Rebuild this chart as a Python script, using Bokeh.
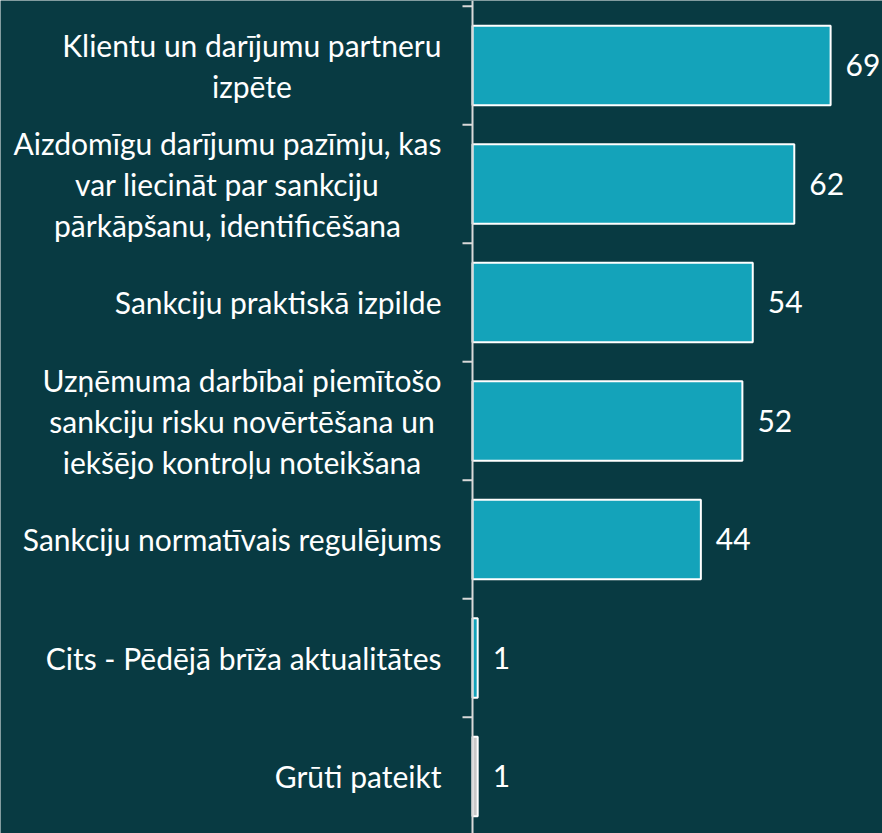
import numpy as np
from bokeh.plotting import figure
from bokeh.models import Range1d, ColumnDataSource, Span
from bokeh.core.properties import value
from bokeh.embed import file_html
from bokeh.resources import INLINE

categories = [
    "Klientu un darījumu partneru\nizpēte",
    "Aizdomīgu darījumu pazīmju, kas\nvar liecināt par sankciju\npārkāpšanu, identificēšana",
    "Sankciju praktiskā izpilde",
    "Uzņēmuma darbībai piemītošo\nsankciju risku novērtēšana un\niekšējo kontroļu noteikšana",
    "Sankciju normatīvais regulējums",
    "Cits - Pēdējā brīža aktualitātes",
    "Grūti pateikt",
]
values = [69, 62, 54, 52, 44, 1, 1]
bar_colors = ["#14a3ba", "#14a3ba", "#14a3ba", "#14a3ba", "#14a3ba", "#14a3ba", "#c9c9c9"]

BG = "#083a42"
AXIS = "#d9d9d9"
FONT = "Lato"

W, H = 882, 833
AXIS_PX = 472          # pixel position of the category axis
PX_PER_UNIT = 5.19     # horizontal scale
TICK_PX = 10

n = len(categories)
centers = list(np.arange(n) + 0.5)
bounds = list(np.arange(n + 1).astype(float))

src = ColumnDataSource(dict(
    y=centers, v=values, c=bar_colors, t=[str(x) for x in values],
    lab=categories, zero=[0] * n,
))
tick_src = ColumnDataSource(dict(
    y=bounds, x0=[-TICK_PX / PX_PER_UNIT] * (n + 1), x1=[0] * (n + 1)
))

p = figure(width=W, height=H, output_backend="svg", toolbar_location=None,
           x_range=Range1d(-AXIS_PX / PX_PER_UNIT, (W - AXIS_PX) / PX_PER_UNIT),
           y_range=Range1d(6.981, -0.048),
           x_axis_location=None, y_axis_location=None,
           min_border_left=0, min_border_right=0,
           min_border_top=0, min_border_bottom=0)
p.background_fill_color = BG
p.border_fill_color = BG
p.outline_line_color = None
p.grid.visible = False

p.hbar(y="y", right="v", left=0, height=0.67, fill_color="c",
       line_color="white", line_width=2, source=src)
p.text(x="v", y="y", text="t", x_offset=15, text_baseline="middle",
       text_align="left", text_color="white", text_font=value(FONT),
       text_font_size="30px", source=src)

# category axis line and boundary ticks
p.add_layout(Span(location=0, dimension="height", line_color=AXIS, line_width=2))
p.segment(x0="x0", y0="y", x1="x1", y1="y", line_color=AXIS, line_width=2,
          source=tick_src)

# category labels: block right-aligned next to axis, lines centered
p.text(x="zero", y="y", text="lab", x_offset=-31, anchor="center_right",
       text_align="center", text_baseline="middle", text_color="white",
       text_font=value(FONT), text_font_size="30px", text_line_height=1.15,
       source=src)

open("out.html", "w").write(file_html(p, INLINE))
